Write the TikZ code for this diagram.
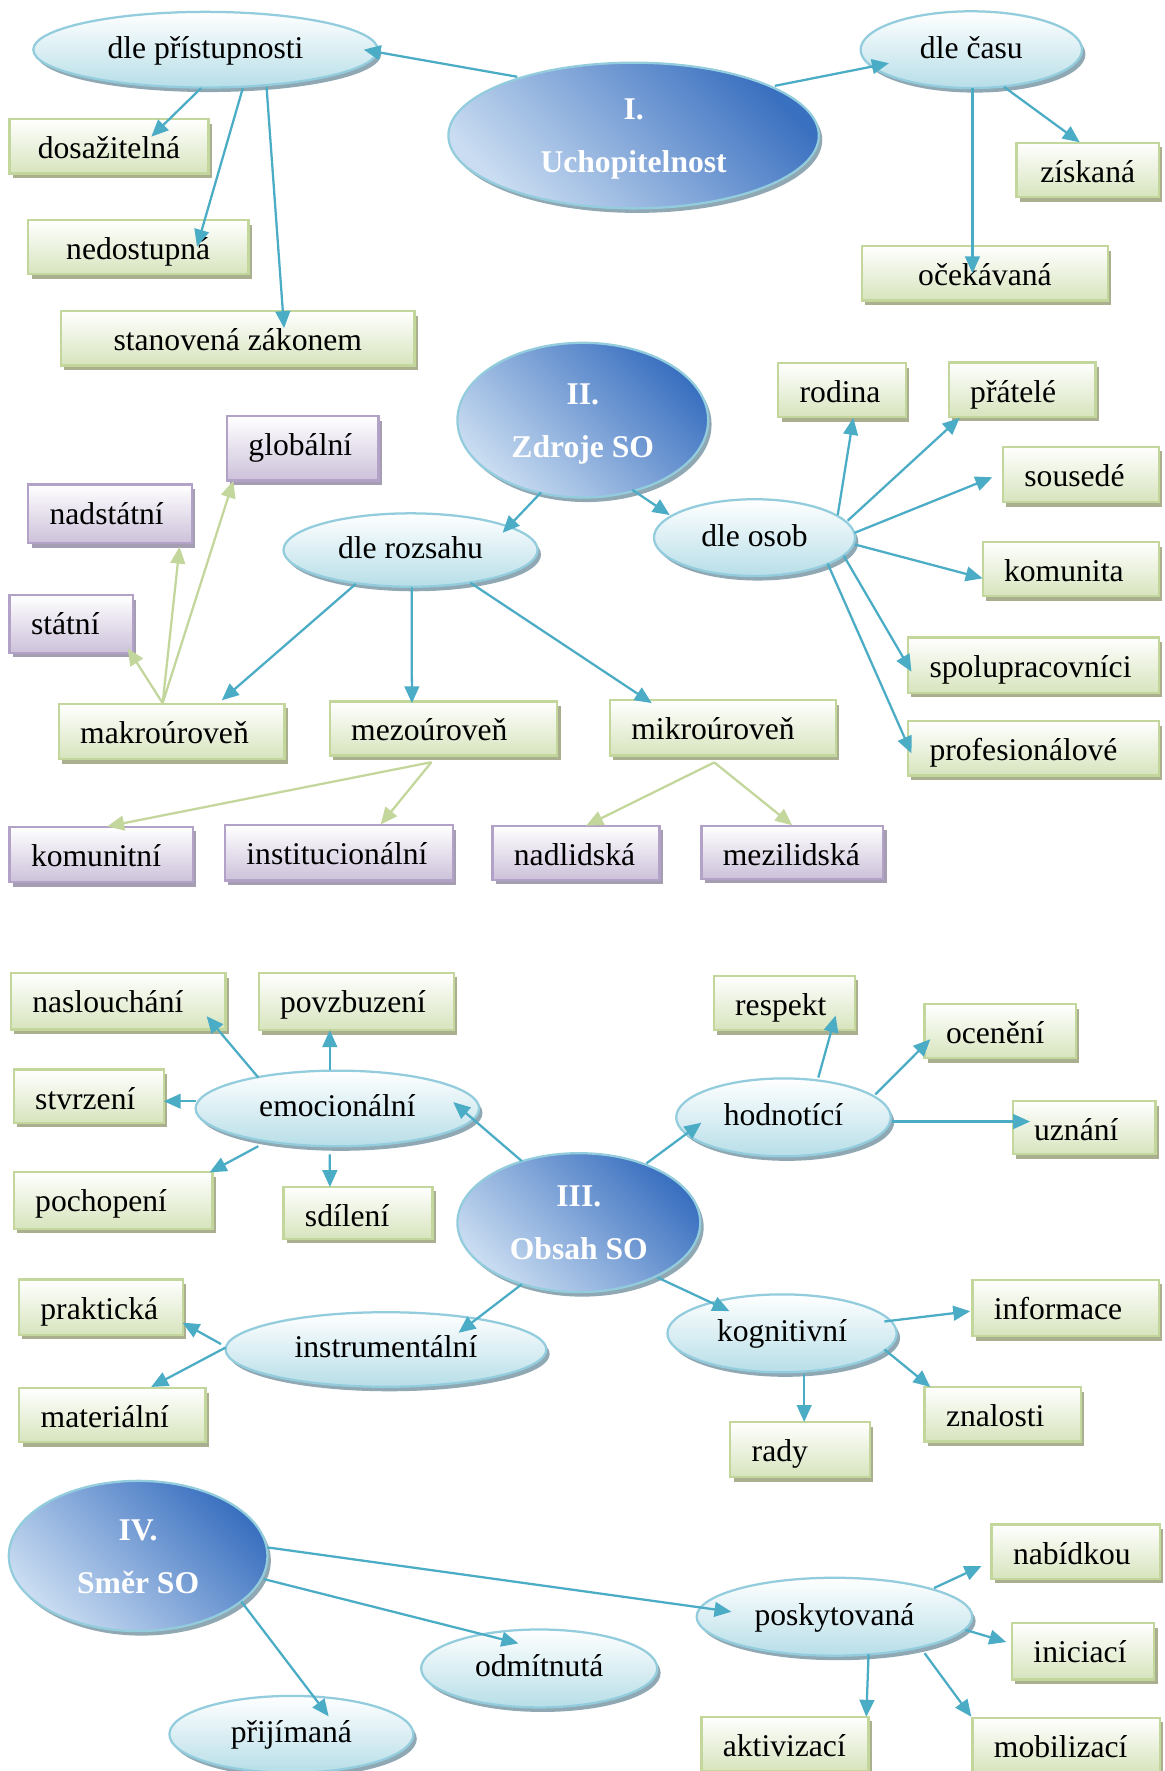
\documentclass[tikz,border=0pt]{standalone}
\usepackage{fontspec}
\setmainfont{Liberation Serif}
\usetikzlibrary{shapes.geometric,arrows.meta,shadows,calc}
\definecolor{arrowblue}{HTML}{4BACC6}
\definecolor{gline}{HTML}{C3D69B}
\definecolor{gfill}{HTML}{D7E4BD}
\definecolor{gshadow}{HTML}{A9AF8F}
\definecolor{pline}{HTML}{B3A2C7}
\definecolor{pfill}{HTML}{CCC1DA}
\definecolor{pshadow}{HTML}{A59DB1}
\definecolor{eline}{HTML}{93CDDD}
\definecolor{efill}{HTML}{B7DEE8}
\definecolor{eshadow}{HTML}{8FA8B3}
\definecolor{bdark}{HTML}{3A70C0}
\definecolor{blight}{HTML}{C9DCF1}
\tikzset{
  every node/.style={font=\fontsize{28}{34}\selectfont},
  boxbase/.style={rectangle, line width=2pt, top color=white, inner xsep=19pt, inner ysep=0pt, text height=35pt},
  gbox/.style={boxbase, draw=gline, bottom color=gfill, general shadow={fill=gshadow, shadow xshift=3pt, shadow yshift=-4pt}},
  pbox/.style={boxbase, draw=pline, bottom color=pfill, general shadow={fill=pshadow, shadow xshift=3pt, shadow yshift=-4pt}},
  lell/.style={ellipse, draw=eline, line width=2pt, top color=white, bottom color=efill, inner sep=0pt, text height=21pt, text depth=6pt, general shadow={fill=eshadow, shadow xshift=3pt, shadow yshift=-4pt}},
  bigell/.style={ellipse, draw=eline, line width=2pt, top color=bdark, bottom color=blight, shading angle=-45, inner sep=0pt, align=center, text=white, font=\bfseries\fontsize{28}{47}\selectfont, general shadow={fill=eshadow, shadow xshift=3pt, shadow yshift=-4pt}},
  arr/.style={draw=arrowblue, line width=2pt, -{Triangle[length=15pt,width=13pt]}},
  garr/.style={arr, draw=gline}
}
% box, text left-aligned with 19pt pad
\newcommand\bx[7]{\pgfmathsetmacro\tdpv{#5-35}\node[#1,minimum width=#4pt,minimum height=#5pt,text depth=\tdpv pt] (#6) at (#2,#3) {\makebox[\dimexpr#4pt-38pt\relax][l]{#7}};}
% box, text centred
\newcommand\bxc[7]{\pgfmathsetmacro\tdpv{#5-35}\node[#1,minimum width=#4pt,minimum height=#5pt,text depth=\tdpv pt] (#6) at (#2,#3) {#7};}
\newcommand\el[6]{\node[lell,minimum width=#3pt,minimum height=#4pt] (#5) at (#1,#2) {#6};}
% big ellipse: two lines, struts fix the vertical position
\newcommand\bel[7]{\node[bigell,minimum width=#3pt,minimum height=#4pt] (#5) at (#1,#2) {\rule{0pt}{26pt}#6\\#7\rule[-7pt]{0pt}{7pt}};}
\newcommand\conn[5][arr]{\draw[#1] ($(#2)+(#3)$) -- ($(#4)+(#5)$);}
\begin{document}
\begin{tikzpicture}[x=1pt,y=-1pt]
\useasboundingbox (0,0) rectangle (1031,1568);
\fill[white] (0,0) rectangle (1031,1568);
\clip (0,0) rectangle (1031,1568);
% ---------- I ----------
\el{182}{44}{305}{67}{dpr}{dle přístupnosti}
\bel{561}{120}{328}{129}{uch}{I.}{Uchopitelnost}
\el{860}{44}{196}{68}{dcas}{dle času}
\bxc{gbox}{96.5}{129.5}{176}{48}{dosaz}{dosažitelná}
\bxc{gbox}{122.4}{218.8}{195}{48}{nedost}{nedostupná}
\bxc{gbox}{210.5}{299.5}{313}{48}{stanov}{stanovená zákonem}
\bxc{gbox}{963}{150.5}{126}{48}{ziskana}{získaná}
\bxc{gbox}{872}{242}{218}{48}{ocek}{očekávaná}
% ---------- II ----------
\bel{516}{372}{222}{137}{zdroje}{II.}{Zdroje SO}
\el{363.5}{487}{225}{65}{drozs}{dle rozsahu}
\el{668}{476}{178}{68}{dosob}{dle osob}
\bx{gbox}{745.5}{345.5}{113}{48}{rodina}{rodina}
\bx{gbox}{905}{345}{130}{48}{pratele}{přátelé}
\bx{gbox}{957}{420}{138}{49}{sousede}{sousedé}
\bx{gbox}{948}{504}{156}{48}{komunita}{komunita}
\bx{gbox}{915}{589}{222}{49}{spolu}{spolupracovníci}
\bx{gbox}{915}{662.5}{222}{48}{profes}{profesionálové}
\bx{pbox}{268}{397}{134}{57}{globalni}{globální}
\bx{pbox}{97.4}{455}{145}{52}{nadstat}{nadstátní}
\bx{pbox}{63}{552.5}{109}{51}{statni}{státní}
\bx{gbox}{152}{647.5}{200}{49}{makro}{makroúroveň}
\bx{gbox}{392.7}{645}{201.5}{48}{mezo}{mezoúroveň}
\bx{gbox}{640}{644.5}{200}{49}{mikro}{mikroúroveň}
\bx{pbox}{89.7}{756.5}{162.5}{49}{komunitni}{komunitní}
\bx{pbox}{300}{755}{201.6}{49}{instit}{institucionální}
\bx{pbox}{510}{755}{148}{48}{nadlid}{nadlidská}
\bx{pbox}{701.5}{754.5}{161}{47}{mezilid}{mezilidská}
% ---------- III ----------
\bel{512.5}{1082.5}{215}{123}{obsah}{III.}{Obsah SO}
\el{298.7}{981.4}{251}{67}{emo}{emocionální}
\bx{gbox}{104.6}{886.5}{190}{50}{naslo}{naslouchání}
\bx{gbox}{315.5}{886.7}{173}{51}{povz}{povzbuzení}
\bx{gbox}{78.7}{970.5}{133}{47}{stvrz}{stvrzení}
\bx{gbox}{100.2}{1062.9}{176}{50}{pochop}{pochopení}
\bx{gbox}{317}{1073.8}{132}{46}{sdil}{sdílení}
\el{341.7}{1194.8}{284}{66}{instr}{instrumentální}
\bx{gbox}{89.3}{1157.4}{145}{49}{prakt}{praktická}
\bx{gbox}{99.5}{1253}{165}{48}{mater}{materiální}
\el{693.7}{989.3}{190}{69}{hodn}{hodnotící}
\bx{gbox}{694.4}{888}{125}{48}{respekt}{respekt}
\bx{gbox}{885.6}{913}{134}{48}{ocen}{ocenění}
\bx{gbox}{959.8}{998.5}{126.5}{47}{uznani}{uznání}
\el{692.4}{1180.5}{203}{69}{kogn}{kognitivní}
\bx{gbox}{943.5}{1158}{165}{50}{inform}{informace}
\bx{gbox}{887.8}{1252.3}{138.4}{48}{znal}{znalosti}
\bx{gbox}{708.3}{1283.5}{123.5}{49}{rady}{rady}
% ---------- IV ----------
\bel{122.3}{1377.6}{229}{133}{smer}{IV.}{Směr SO}
\el{738.8}{1431.4}{244}{69}{posk}{poskytovaná}
\el{477.4}{1477.2}{209}{69}{odm}{odmítnutá}
\el{258}{1535.5}{216}{68}{prij}{přijímaná}
\bx{gbox}{952.4}{1373.8}{149}{48}{nabid}{nabídkou}
\bx{gbox}{959}{1462}{126}{50}{inic}{iniciací}
\bx{gbox}{695}{1544}{148}{48}{aktiv}{aktivizací}
\bx{gbox}{944}{1545}{166}{48}{mobil}{mobilizací}
% ---------- connectors I ----------
\conn{uch}{-103,-52}{dpr}{140,0}
\conn{uch}{125,-44}{dcas}{-73,12}
\conn{dpr}{-4,34}{dosaz}{37.5,-8.5}
\conn{dpr}{33,34}{nedost}{52,-0.5}
\conn{dpr}{54,33}{stanov}{41,-9}
\conn{dcas}{1,34}{ocek}{-11,0}
\conn{dcas}{29,33}{ziskana}{-7,-24.5}
% ---------- connectors II ----------
\conn{zdroje}{-37,64}{drozs}{81.5,-15.3}
\conn{zdroje}{43.7,61.6}{dosob}{-75,-20}
\conn{drozs}{-48.5,30}{makro}{44.4,-27.5}
\conn{drozs}{1,33}{mezo}{-28,-22.4}
\conn{drozs}{53,29}{mikro}{-63,-22}
\conn{dosob}{73.7,-20}{rodina}{10,24.5}
\conn{dosob}{82.5,-15}{pratele}{-55.4,25}
\conn{dosob}{88.7,-4.3}{sousede}{-78.4,2.6}
\conn{dosob}{88.7,6}{komunita}{-78,8}
\conn{dosob}{79,16}{spolu}{-108,5.7}
\conn{dosob}{64.8,23}{profes}{-108,4.5}
\conn[garr]{makro}{-8,-25}{statni}{50,21.5}
\conn[garr]{makro}{-8,-25}{nadstat}{61.6,29}
\conn[garr]{makro}{-8,-25}{globalni}{-61.4,28.7}
\conn[garr]{mezo}{-10.7,29.8}{komunitni}{5.2,-24.8}
\conn[garr]{mezo}{-10.7,29.8}{instit}{37,-25}
\conn[garr]{mikro}{-7.6,30.5}{nadlid}{9,-24}
\conn[garr]{mikro}{-7.6,30.5}{mezilid}{0,-23.8}
% ---------- connectors III ----------
\conn{obsah}{-50.5,-54.5}{emo}{102.6,-5.6}
\conn{emo}{-70,-27.4}{naslo}{78.3,13.2}
\conn{emo}{-6.7,-34.4}{povz}{-23.5,25.3}
\conn{emo}{-125.3,-6.4}{stvrz}{66.3,4.5}
\conn{emo}{-70,33.4}{pochop}{85.4,-24.9}
\conn{emo}{-6.7,40.6}{sdil}{-24.9,-22.8}
\conn{obsah}{-50.5,54.5}{instr}{64.3,-14.8}
\conn{instr}{-146,-4.8}{prakt}{72.2,13.6}
\conn{instr}{-141.9,-1.8}{mater}{34.3,-25}
\conn{obsah}{59.9,-52.5}{hodn}{-72.7,4.7}
\conn{hodn}{30.8,-35.3}{respekt}{45.4,11.1}
\conn{hodn}{81.3,-20.3}{ocen}{-61.9,7.1}
\conn{hodn}{96.3,3.7}{uznani}{-47.8,-5.5}
\conn{obsah}{69.5,48.5}{kogn}{-46.6,-19.7}
\conn{kogn}{90.6,-10.5}{inform}{-84.5,2.9}
\conn{kogn}{90.6,14.2}{znal}{-64.1,-24.3}
\conn{kogn}{19.6,36.3}{rady}{3.7,-24.5}
% ---------- connectors IV ----------
\conn{smer}{114.4,-7.6}{posk}{-91.2,-4.4}
\conn{smer}{111.1,20.4}{odm}{-18.4,-22.2}
\conn{smer}{91.4,40.4}{prij}{33,-15.9}
\conn{posk}{88.2,-25.4}{nabid}{-83.4,12.7}
\conn{posk}{115.9,11.6}{inic}{-68.1,-8.2}
\conn{posk}{30.2,33.2}{aktiv}{72,-24}
\conn{posk}{79.8,32.3}{mobil}{-84,-25}
\end{tikzpicture}
\end{document}
